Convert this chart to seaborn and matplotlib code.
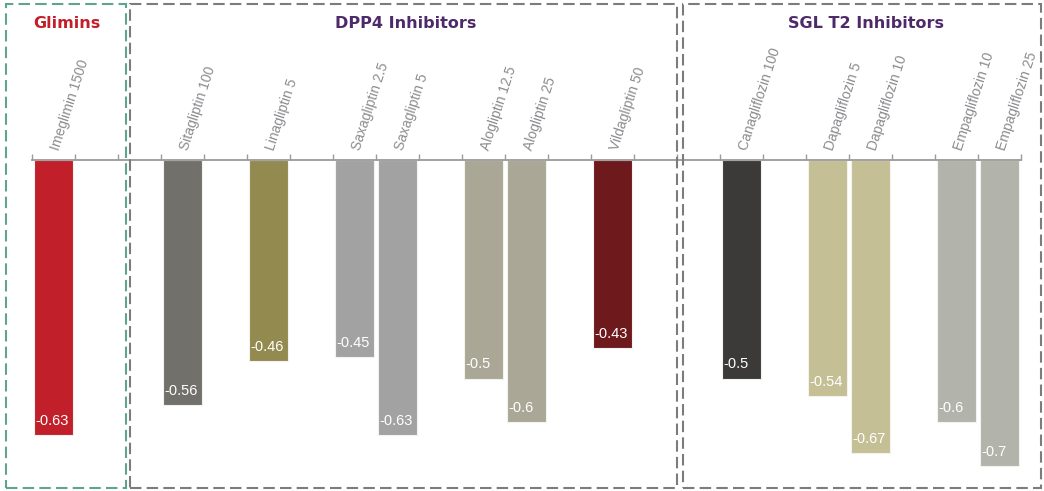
import matplotlib
matplotlib.use("Agg")
import matplotlib.pyplot as plt
from matplotlib.patches import Rectangle
import seaborn as sns
import pandas as pd
import numpy as np

# HbA1c change by drug and dose
drugs = ["Imeglimin 1500", "Sitagliptin 100", "Linagliptin 5", "Saxagliptin 2.5",
         "Saxagliptin 5", "Alogliptin 12.5", "Alogliptin 25", "Vildagliptin 50",
         "Canagliflozin 100", "Dapagliflozin 5", "Dapagliflozin 10",
         "Empagliflozin 10", "Empagliflozin 25"]
values = [-0.63, -0.56, -0.46, -0.45, -0.63, -0.5, -0.6, -0.43,
          -0.5, -0.54, -0.67, -0.6, -0.7]
bar_colors = ["#c11f29", "#72706a", "#938a50", "#a2a2a2", "#a2a2a2", "#aaa796",
              "#aaa796", "#6e191c", "#3b3a38", "#c5bf96", "#c5bf96", "#b2b3aa", "#b2b3aa"]
group_titles = ["Glimins", "DPP4 Inhibitors", "SGL T2 Inhibitors"]
title_colors = ["#c11f29", "#4e2a6a", "#4e2a6a"]

# slot layout along the axis (None = empty slot)
layout = ["Imeglimin 1500", None, None, "Sitagliptin 100", None, "Linagliptin 5", None,
          "Saxagliptin 2.5", "Saxagliptin 5", None, "Alogliptin 12.5", "Alogliptin 25", None,
          "Vildagliptin 50", None, None, "Canagliflozin 100", None, "Dapagliflozin 5",
          "Dapagliflozin 10", None, "Empagliflozin 10", "Empagliflozin 25"]
order = [name if name is not None else " " * (i + 1) for i, name in enumerate(layout)]

df = pd.DataFrame({"drug": drugs, "value": values})
palette = dict(zip(drugs, bar_colors))

sns.set_style("white")
plt.rcParams["font.family"] = ["Liberation Sans", "DejaVu Sans"]

W, H = 1044, 491
fig = plt.figure(figsize=(W / 100, H / 100), dpi=100)
# axis line at y=160px; 437 px per unit
ax_left, ax_right, ax_top, ax_bot = 32, 1021, 160, 480
ax = fig.add_axes([ax_left / W, (H - ax_bot) / H, (ax_right - ax_left) / W,
                   (ax_bot - ax_top) / H])

sns.barplot(data=df, x="drug", y="value", order=order, hue="drug", palette=palette,
            width=0.9, saturation=1, legend=False, edgecolor="#f2f2ee", linewidth=0.8,
            ax=ax)

ax.set_xlim(-0.5, len(order) - 0.5)
ax.set_ylim(-(ax_bot - ax_top) / 437, 0)
ax.set_xlabel("")
ax.set_ylabel("")
ax.set_yticks([])
ax.xaxis.tick_top()
ax.set_xticks(np.arange(-0.5, len(order) + 0.5, 1.0))
ax.set_xticklabels([])
ax.tick_params(axis="x", direction="out", length=4, width=1, color="#9a9a9a", pad=0)
for side in ["left", "right", "bottom"]:
    ax.spines[side].set_visible(False)
ax.spines["top"].set_color("#9a9a9a")
ax.spines["top"].set_linewidth(1.3)

for name, val in zip(drugs, values):
    pos = order.index(name)
    ax.annotate(name, xy=(pos, 0), xytext=(2, 10), textcoords="offset pixels",
                rotation=72, rotation_mode="anchor", ha="left", va="center",
                fontsize=10, color="#8c8c90", annotation_clip=False)
    ax.annotate(f"{val:g}", xy=(pos - 0.45, val), xytext=(1, 14),
                textcoords="offset pixels", ha="left", va="center",
                fontsize=10.5, color="white")

# group frames
frames = [(6, 126, "#5fa58c"), (130, 677, "#7c7c7c"), (683, 1041, "#7c7c7c")]
for (x0, x1, col), title, tcol in zip(frames, group_titles, title_colors):
    fig.patches.append(Rectangle((x0 / W, (H - 488) / H), (x1 - x0) / W, (488 - 4) / H,
                                 transform=fig.transFigure, fill=False, edgecolor=col,
                                 linewidth=1.5, linestyle=(0, (5.5, 2.5))))
centers = [67, 406, 866]
for cx, title, tcol in zip(centers, group_titles, title_colors):
    fig.text(cx / W, 1 - 23 / H, title, ha="center", va="center", fontsize=11.5,
             fontweight="bold", color=tcol, family="DejaVu Sans")

fig.savefig("out.png", dpi=100)
